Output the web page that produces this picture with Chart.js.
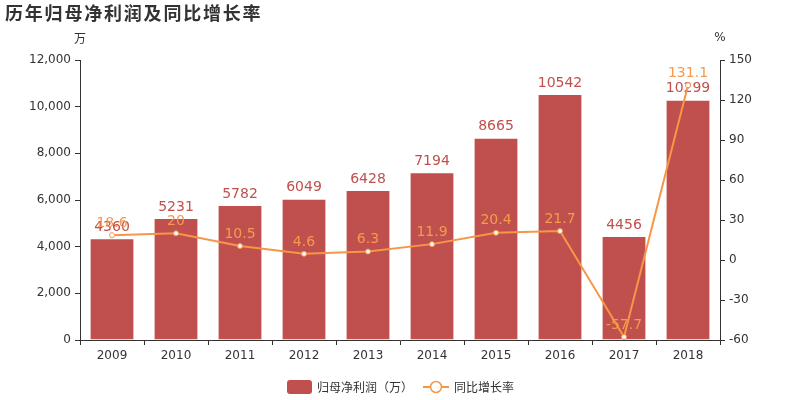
<!DOCTYPE html>
<html lang="zh">
<head>
<meta charset="UTF-8">
<title>历年归母净利润及同比增长率</title>
<style>
  html, body { margin: 0; padding: 0; background: #fff; }
  #wrap { width: 800px; height: 400px; }
</style>
</head>
<body>
<script src="https://cdn.jsdelivr.net/npm/chart.js"></script>
<div id="wrap"><canvas id="myChart" width="800" height="400"></canvas></div>
<script>
  // 数据
  const years = ['2009', '2010', '2011', '2012', '2013', '2014', '2015', '2016', '2017', '2018'];
  const profit = [4360, 5231, 5782, 6049, 6428, 7194, 8665, 10542, 4456, 10299];
  const growth = [18.6, 20, 10.5, 4.6, 6.3, 11.9, 20.4, 21.7, -57.7, 131.1];
  const leftTicks = [0, 2000, 4000, 6000, 8000, 10000, 12000];
  const rightTicks = [-60, -30, 0, 30, 60, 90, 120, 150];

  const barColor = '#c0504d';
  const lineColor = '#f79646';
  const lineLabelColor = '#f59a4f';
  const axisColor = '#333';
  const font = 'DejaVu Sans, sans-serif';
  const cjk = '"Noto Sans CJK SC", sans-serif';

  // 数值标签、标题、单位和图例
  const extras = {
    id: 'extras',
    afterDatasetDraw(chart, args) {
      if (args.index !== 0) return;
      const ctx = chart.ctx;
      ctx.save();
      ctx.font = '14px ' + font;
      ctx.fillStyle = barColor;
      ctx.textAlign = 'center';
      ctx.textBaseline = 'bottom';
      chart.getDatasetMeta(0).data.forEach((bar, i) => {
        ctx.fillText(String(profit[i]), bar.x, bar.y - 4);
      });
      ctx.restore();
    },
    afterDatasetsDraw(chart) {
      const ctx = chart.ctx;
      ctx.save();
      ctx.font = '14px ' + font;
      ctx.fillStyle = lineLabelColor;
      ctx.textAlign = 'center';
      ctx.textBaseline = 'bottom';
      chart.getDatasetMeta(1).data.forEach((pt, i) => {
        ctx.fillText(String(growth[i]), pt.x, pt.y - 5);
      });
      ctx.restore();
    },
    afterDraw(chart) {
      const ctx = chart.ctx;
      const area = chart.chartArea;
      ctx.save();
      // 标题
      ctx.fillStyle = axisColor;
      ctx.font = 'bold 18px ' + cjk;
      ctx.textBaseline = 'middle';
      ctx.textAlign = 'left';
      ctx.letterSpacing = '1.8px';
      ctx.fillText('历年归母净利润及同比增长率', 5, 13);
      ctx.letterSpacing = '0px';
      // 单位
      ctx.font = '12px ' + cjk;
      ctx.textAlign = 'center';
      ctx.fillText('万', area.left, 38);
      ctx.font = '12px ' + font;
      ctx.fillText('%', area.right, 38);
      // 图例
      const ly = 387;
      ctx.fillStyle = barColor;
      ctx.beginPath();
      ctx.roundRect(287, ly - 7, 25, 14, 3);
      ctx.fill();
      ctx.fillStyle = axisColor;
      ctx.font = '12px ' + cjk;
      ctx.textAlign = 'left';
      ctx.fillText('归母净利润（万）', 317, ly);
      ctx.strokeStyle = lineColor;
      ctx.lineWidth = 2;
      ctx.beginPath();
      ctx.moveTo(423, ly);
      ctx.lineTo(449, ly);
      ctx.stroke();
      ctx.fillStyle = '#fff';
      ctx.lineWidth = 1.5;
      ctx.beginPath();
      ctx.arc(436, ly, 5.5, 0, Math.PI * 2);
      ctx.fill();
      ctx.stroke();
      ctx.fillStyle = axisColor;
      ctx.fillText('同比增长率', 454, ly);
      ctx.restore();
    }
  };

  const ctx = document.getElementById('myChart').getContext('2d');
  const myChart = new Chart(ctx, {
    data: {
      labels: years,
      datasets: [
        {
          type: 'bar',
          label: '归母净利润（万）',
          data: profit,
          yAxisID: 'y',
          backgroundColor: barColor,
          borderColor: 'rgba(255,255,255,0.55)',
          borderWidth: 1,
          categoryPercentage: 1,
          barPercentage: 0.7,
          order: 1
        },
        {
          type: 'line',
          label: '同比增长率',
          data: growth,
          yAxisID: 'y1',
          borderColor: lineColor,
          borderWidth: 2,
          pointRadius: 2.5,
          pointBorderWidth: 1,
          pointBackgroundColor: '#fff',
          pointBorderColor: lineColor,
          tension: 0,
          order: 0
        }
      ]
    },
    options: {
      responsive: false,
      animation: false,
      layout: { padding: { top: 60, left: 0, right: 0, bottom: 0 } },
      plugins: {
        legend: { display: false },
        tooltip: { enabled: false }
      },
      scales: {
        x: {
          offset: true,
          grid: {
            offset: true,
            drawOnChartArea: false,
            drawTicks: true,
            tickLength: 5,
            color: axisColor
          },
          border: { display: true, color: axisColor, width: 1 },
          ticks: { color: axisColor, font: { family: font, size: 12 }, padding: 4, maxRotation: 0 },
          afterFit(scale) { scale.height = 60; }
        },
        y: {
          position: 'left',
          min: 0,
          max: 12000,
          afterBuildTicks(scale) { scale.ticks = leftTicks.map(v => ({ value: v })); },
          grid: { drawOnChartArea: false, tickLength: 5, color: axisColor },
          border: { display: true, color: axisColor, width: 1 },
          ticks: {
            color: axisColor,
            font: { family: font, size: 12 },
            padding: 4,
            callback: v => v.toLocaleString('en-US')
          },
          afterFit(scale) { scale.width = 80; }
        },
        y1: {
          position: 'right',
          min: -60,
          max: 150,
          afterBuildTicks(scale) { scale.ticks = rightTicks.map(v => ({ value: v })); },
          grid: { drawOnChartArea: false, tickLength: 5, color: axisColor },
          border: { display: true, color: axisColor, width: 1 },
          ticks: { color: axisColor, font: { family: font, size: 12 }, padding: 4 },
          afterFit(scale) { scale.width = 80; }
        }
      }
    },
    plugins: [extras]
  });
</script>
</body>
</html>
